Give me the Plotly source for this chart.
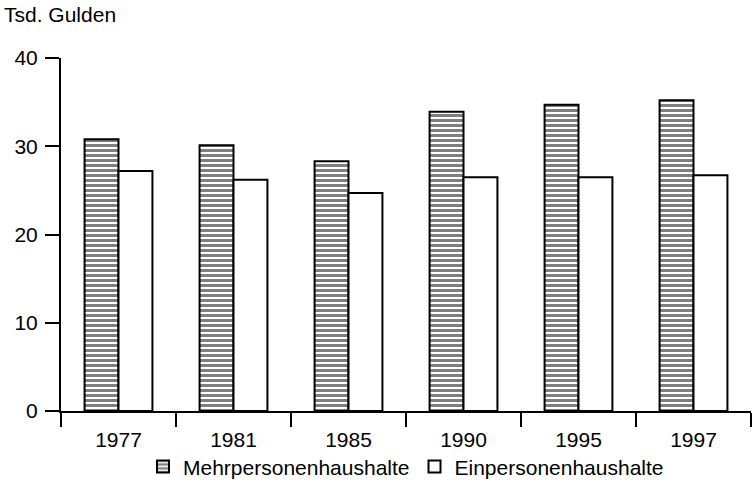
import plotly.graph_objects as go

years = ["1977", "1981", "1985", "1990", "1995", "1997"]
mehr = [30.8, 30.1, 28.3, 33.9, 34.7, 35.2]
ein = [27.2, 26.2, 24.7, 26.5, 26.5, 26.7]
y_ticks = [0, 10, 20, 30, 40]

font = dict(family="Liberation Sans, Arial, sans-serif", size=21, color="black")

fig = go.Figure()
fig.add_trace(go.Bar(
    x=years, y=mehr, name="Mehrpersonenhaushalte",
    marker=dict(color="white", line=dict(color="black", width=2),
                pattern=dict(shape="-", fgcolor="black", bgcolor="white", size=5, solidity=0.6)),
))
fig.add_trace(go.Bar(
    x=years, y=ein, name="Einpersonenhaushalte",
    marker=dict(color="white", line=dict(color="black", width=2)),
))

fig.update_layout(
    width=753, height=490,
    margin=dict(l=61, r=2, t=58, b=79),
    paper_bgcolor="white", plot_bgcolor="white",
    font=font,
    barmode="group", bargap=0.41, bargroupgap=0,
    showlegend=True,
    legend=dict(orientation="h", x=0.5, xanchor="center", y=-0.158, yanchor="middle",
                font=font, itemwidth=30, traceorder="normal", bgcolor="rgba(0,0,0,0)"),
    annotations=[dict(text="Tsd. Gulden", xref="paper", yref="paper", x=-59/690, y=1 + 44/353,
                      xanchor="left", yanchor="middle", showarrow=False, font=font)],
)
fig.update_xaxes(
    type="category", showline=True, linecolor="black", linewidth=2,
    ticks="outside", tickson="boundaries", ticklen=14, tickwidth=2, tickcolor="black",
    showgrid=False, zeroline=False, ticklabelstandoff=9,
)
fig.update_yaxes(
    range=[0, 40], tickvals=y_ticks, showline=True, linecolor="black", linewidth=2,
    ticks="outside", ticklen=14, tickwidth=2, tickcolor="black",
    showgrid=False, zeroline=False, ticklabelstandoff=3,
)

fig.write_html("out.html", config={"displayModeBar": False},
               post_script="document.body.style.margin='0';")
